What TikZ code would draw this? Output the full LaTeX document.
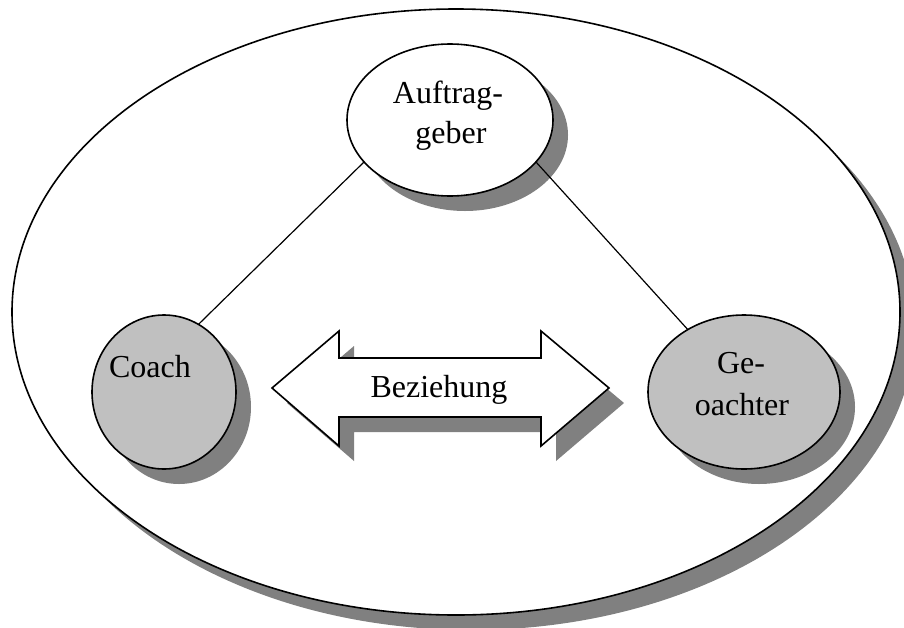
\documentclass[tikz,border=0pt]{standalone}
\usepackage{fontspec}
\setmainfont{Liberation Serif}
\usetikzlibrary{shapes.geometric,shadows}
\definecolor{shgray}{HTML}{808080}
\definecolor{ndgray}{HTML}{C0C0C0}
\begin{document}
\begin{tikzpicture}[x=1pt,y=-1pt,
  shad/.style={drop shadow={shadow xshift=15pt,shadow yshift=-15pt,fill=shgray,opacity=1}},
  oval/.style={ellipse,draw=black,line width=1.6pt,inner sep=0pt,outer sep=0pt,shad},
  lbl/.style={anchor=base,inner sep=0pt,font=\fontsize{32}{40}\selectfont},
  link/.style={draw=black,line width=1.2pt}]
\useasboundingbox (0,0) rectangle (904,627);
\node[oval,fill=white,minimum width=888pt,minimum height=606pt] (world) at (456,312) {};
\node[oval,fill=white,minimum width=206pt,minimum height=152pt] (auf) at (450,120) {};
\node[oval,fill=ndgray,minimum width=144pt,minimum height=154pt] (coach) at (164,392) {};
\node[oval,fill=ndgray,minimum width=192pt,minimum height=154pt] (ge) at (744,392) {};
\filldraw[fill=white,draw=black,line width=1.6pt,line join=miter,shad]
  (272,388) -- (339,331) -- (339,358) -- (541,358) -- (541,331) -- (609,388)
  -- (541,446) -- (541,417) -- (339,417) -- (339,446) -- cycle;
\node[lbl] (auf1) at (448,103) {Auftrag-};
\node[lbl] (auf2) at (451,143) {geber};
\node[lbl] (coachtxt) at (150,377) {Coach};
\node[lbl] (ge1) at (741,373) {Ge-};
\node[lbl] (ge2) at (742,415) {oachter};
\node[lbl] (rel) at (439,397) {Beziehung};
\draw[link] (coach.63) -- (auf.206);
\draw[link] (ge.132) -- (auf.334);
\end{tikzpicture}
\end{document}
